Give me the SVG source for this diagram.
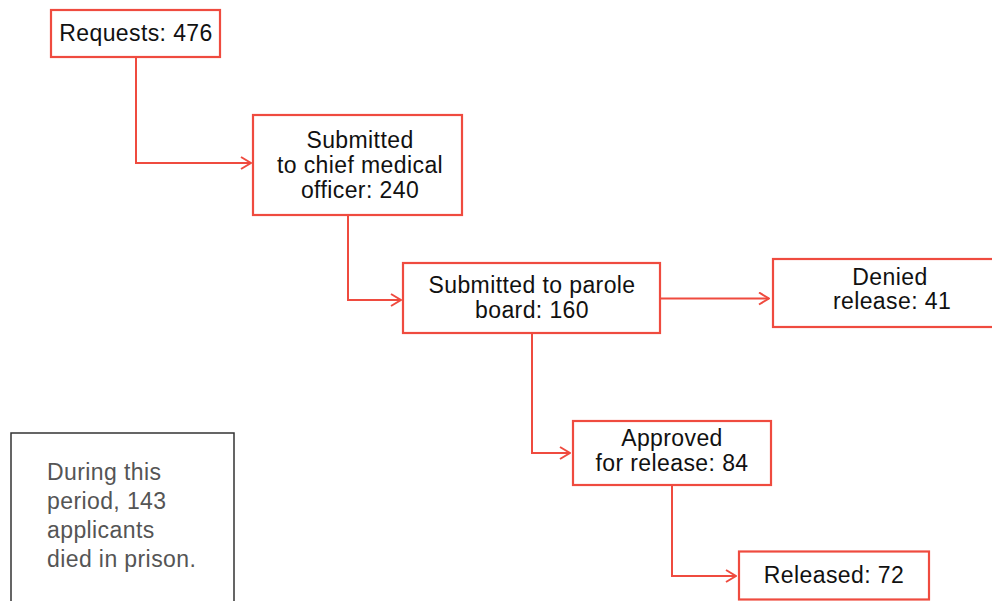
<svg xmlns="http://www.w3.org/2000/svg" width="992" height="601" viewBox="0 0 992 601">
<style>
.box{fill:#fff;stroke:#EF4B3F;stroke-width:2.2}
.note{fill:#fff;stroke:#333;stroke-width:1.5}
.t{font-family:"Liberation Sans",Arial,sans-serif;font-size:23px;fill:#111;text-anchor:middle;letter-spacing:0.4px}
.n{font-family:"Liberation Sans",Arial,sans-serif;font-size:23px;fill:#555;letter-spacing:0.4px}
.c{fill:none;stroke:#EF4B3F;stroke-width:2}
</style>
<defs>
<marker id="arr" viewBox="0 0 12 14" refX="11" refY="7" markerWidth="12" markerHeight="14" markerUnits="userSpaceOnUse" orient="auto">
<path d="M1,1 L11,7 L1,13" fill="none" stroke="#EF4B3F" stroke-width="2"/>
</marker>
</defs>
<g id="connectors">
<path class="c" d="M136,57 V163 H251" marker-end="url(#arr)"/>
<path class="c" d="M348,215 V300 H401" marker-end="url(#arr)"/>
<path class="c" d="M661,298.5 H769" marker-end="url(#arr)"/>
<path class="c" d="M532,333 V453 H570" marker-end="url(#arr)"/>
<path class="c" d="M672,485 V576 H736" marker-end="url(#arr)"/>
</g>
<g id="requests">
<rect class="box" x="51" y="10" width="169" height="47"/>
<text class="t" x="136" y="41">Requests: 476</text>
</g>
<g id="cmo">
<rect class="box" x="253" y="115" width="209" height="100"/>
<text class="t" x="360" y="148">Submitted</text>
<text class="t" x="360" y="173">to chief medical</text>
<text class="t" x="360" y="198">officer: 240</text>
</g>
<g id="parole">
<rect class="box" x="403" y="263" width="257" height="70"/>
<text class="t" x="532" y="293">Submitted to parole</text>
<text class="t" x="532" y="318">board: 160</text>
</g>
<g id="denied">
<rect class="box" x="773" y="259" width="230" height="68"/>
<text class="t" x="890" y="285">Denied</text>
<text class="t" x="892" y="309">release: 41</text>
</g>
<g id="approved">
<rect class="box" x="573" y="421" width="198" height="64"/>
<text class="t" x="672" y="446">Approved</text>
<text class="t" x="672" y="471">for release: 84</text>
</g>
<g id="released">
<rect class="box" x="739" y="551.5" width="190" height="48"/>
<text class="t" x="834" y="583">Released: 72</text>
</g>
<g id="note">
<path class="note" d="M11,610 V433 H234 V610"/>
<text class="n" x="47" y="480">During this</text>
<text class="n" x="47" y="509">period, 143</text>
<text class="n" x="47" y="538">applicants</text>
<text class="n" x="47" y="567">died in prison.</text>
</g>
</svg>
